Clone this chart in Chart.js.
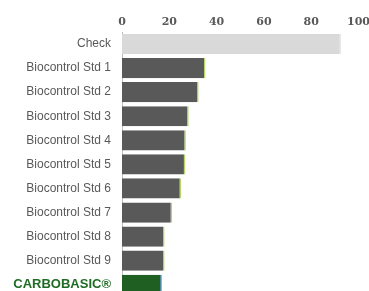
<!DOCTYPE html>
<html lang="en">
<head>
  <meta charset="UTF-8">
  <title>Biocontrol comparison</title>
  <style>
    html, body {
      margin: 0;
      padding: 0;
      background: #fff;
      overflow: hidden;
    }
    #wrap {
      width: 373px;
      height: 315px;
    }
  </style>
</head>
<body>
  <div id="wrap">
    <canvas id="chart" width="373" height="315"></canvas>
  </div>
  <script src="https://cdn.jsdelivr.net/npm/chart.js"></script>
  <script>
    // Data
    const categories = [
      "Check",
      "Biocontrol Std 1",
      "Biocontrol Std 2",
      "Biocontrol Std 3",
      "Biocontrol Std 4",
      "Biocontrol Std 5",
      "Biocontrol Std 6",
      "Biocontrol Std 7",
      "Biocontrol Std 8",
      "Biocontrol Std 9",
      "CARBOBASIC®"
    ];
    const values = [92.5, 35.3, 32.4, 28.2, 27.0, 26.8, 25.0, 21.2, 18.0, 18.0, 16.8];
    const xTicks = [0, 20, 40, 60, 80, 100];

    const barColors = categories.map((c, i) =>
      i === 0 ? "#d9d9d9" : (i === categories.length - 1 ? "#1f5f22" : "#595959"));
    const edgeColors = categories.map((c, i) =>
      i === 0 ? "#d9d9d9" : (i === categories.length - 1 ? "#2f75b5" : "#b5d56a"));

    const isBrand = i => i === categories.length - 1;

    new Chart(document.getElementById("chart"), {
      type: "bar",
      data: {
        labels: categories,
        datasets: [{
          data: values,
          backgroundColor: barColors,
          borderColor: edgeColors,
          borderWidth: { top: 0, right: 1.5, bottom: 0, left: 0 },
          borderSkipped: false,
          barPercentage: 0.84,
          categoryPercentage: 1
        }]
      },
      options: {
        indexAxis: "y",
        responsive: false,
        devicePixelRatio: 1,
        animation: false,
        plugins: {
          legend: { display: false },
          tooltip: { enabled: false }
        },
        scales: {
          x: {
            position: "top",
            min: 0,
            max: 100,
            afterBuildTicks: scale => {
              scale.ticks = xTicks.map(v => ({ value: v }));
            },
            afterFit: scale => { scale.height = 32; },
            grid: { display: false, drawTicks: false },
            border: { display: false },
            ticks: {
              color: "#595959",
              padding: 3,
              maxRotation: 0,
              font: { family: "DejaVu Serif", size: 11, weight: "bold" }
            }
          },
          y: {
            afterFit: scale => { scale.width = 122; },
            grid: { display: false, drawTicks: false },
            border: { display: true, color: "#bfbfbf", width: 1 },
            ticks: {
              padding: 11,
              color: ctx => isBrand(ctx.index) ? "#1f6b24" : "#595959",
              font: ctx => isBrand(ctx.index)
                ? { family: "Liberation Sans", size: 13, weight: "bold" }
                : { family: "Liberation Sans", size: 12 }
            }
          }
        }
      }
    });
  </script>
</body>
</html>
